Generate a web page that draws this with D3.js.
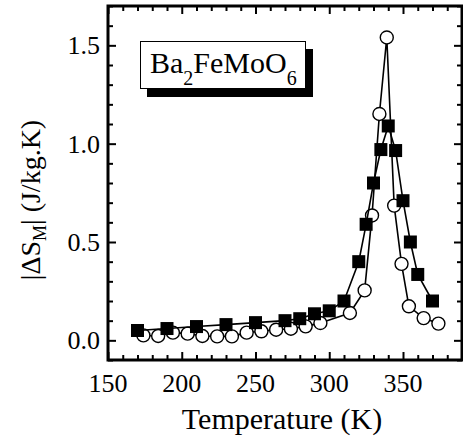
<!DOCTYPE html>
<html>
<head>
<meta charset="utf-8">
<script src="https://cdn.jsdelivr.net/npm/d3@7"></script>
<style>
  body { margin: 0; background: #fff; }
</style>
</head>
<body>
<svg id="chart" width="463" height="441"></svg>
<script>
// heating series (filled squares)
const squareT = [170, 190, 210, 230, 250, 270, 280, 290, 300, 310, 320, 325, 330, 335, 340, 345, 350, 355, 360, 370];
const squareS = [0.05, 0.06, 0.07, 0.08, 0.09, 0.10, 0.11, 0.135, 0.15, 0.20, 0.40, 0.59, 0.80, 0.97, 1.09, 0.965, 0.71, 0.50, 0.335, 0.20];

// second series (open circles)
const circleT = [174, 184, 194, 204, 214, 224, 234, 244, 254, 264, 274, 284, 294, 314, 324, 329, 334, 339, 344, 349, 354, 364, 374];
const circleS = [0.025, 0.022, 0.039, 0.034, 0.022, 0.020, 0.020, 0.039, 0.046, 0.054, 0.059, 0.071, 0.088, 0.139, 0.254, 0.635, 1.151, 1.54, 0.685, 0.389, 0.173, 0.113, 0.085];

const xMajor = [150, 200, 250, 300, 350];
const yMajor = [0.0, 0.5, 1.0, 1.5];

const plotLeft = 108, plotRight = 462, plotTop = 6, plotBottom = 360;
const fontFam = "\"Liberation Serif\", \"Times New Roman\", serif";

const svg = d3.select("#chart");

const x = d3.scaleLinear().domain([150, 390]).range([plotLeft, plotRight]);
const y = d3.scaleLinear().domain([-0.1, 1.7]).range([plotBottom, plotTop]);

const xMinor = d3.range(150, 391, 10).filter(v => !xMajor.includes(v));
const yMinor = d3.range(-1, 18).map(v => v / 10).filter(v => !yMajor.some(m => Math.abs(m - v) < 1e-9));

// inward ticks on all four sides
const tickGroup = (axis, tx, ty) => {
    const g = svg.append("g").attr("transform", `translate(${tx},${ty})`).call(axis);
    g.select(".domain").remove();
    g.selectAll("line").attr("stroke", "#000").attr("stroke-width", 2);
    g.selectAll("text").remove();
    return g;
};
tickGroup(d3.axisBottom(x).tickValues(xMajor).tickSize(-8), 0, plotBottom);
tickGroup(d3.axisBottom(x).tickValues(xMinor).tickSize(-5), 0, plotBottom);
tickGroup(d3.axisTop(x).tickValues(xMajor).tickSize(-8), 0, plotTop);
tickGroup(d3.axisTop(x).tickValues(xMinor).tickSize(-5), 0, plotTop);
tickGroup(d3.axisLeft(y).tickValues(yMajor).tickSize(-8), plotLeft, 0);
tickGroup(d3.axisLeft(y).tickValues(yMinor).tickSize(-5), plotLeft, 0);
tickGroup(d3.axisRight(y).tickValues(yMajor).tickSize(-8), plotRight, 0);
tickGroup(d3.axisRight(y).tickValues(yMinor).tickSize(-5), plotRight, 0);

// tick labels
svg.append("g").selectAll("text")
    .data(xMajor)
    .enter()
    .append("text")
    .attr("x", d => x(d))
    .attr("y", 392)
    .attr("text-anchor", "middle")
    .style("font-family", fontFam)
    .style("font-size", "26px")
    .text(d => d);

svg.append("g").selectAll("text")
    .data(yMajor)
    .enter()
    .append("text")
    .attr("x", 100)
    .attr("y", d => y(d))
    .attr("dy", "0.35em")
    .attr("text-anchor", "end")
    .style("font-family", fontFam)
    .style("font-size", "26px")
    .text(d => d.toFixed(1));

// frame
svg.append("rect")
    .attr("x", plotLeft).attr("y", plotTop)
    .attr("width", plotRight - plotLeft).attr("height", plotBottom - plotTop)
    .attr("fill", "none").attr("stroke", "#000").attr("stroke-width", 3);

// axis titles
svg.append("text")
    .attr("x", 282)
    .attr("y", 429)
    .attr("text-anchor", "middle")
    .style("font-family", fontFam)
    .style("font-size", "30px")
    .text("Temperature (K)");

const yTitle = svg.append("text")
    .attr("transform", "translate(40,200) rotate(-90)")
    .attr("text-anchor", "middle")
    .style("font-family", fontFam)
    .style("font-size", "28px");
yTitle.append("tspan").text("|ΔS");
yTitle.append("tspan").style("font-size", "18px").attr("dy", 6).text("M");
yTitle.append("tspan").attr("dy", -6).text("| (J/kg.K)");

// series
const line = d3.line().x(d => x(d[0])).y(d => y(d[1]));
const circles = circleT.map((t, i) => [t, circleS[i]]);
const squares = squareT.map((t, i) => [t, squareS[i]]);

svg.append("path")
    .datum(circles)
    .attr("d", line)
    .attr("fill", "none").attr("stroke", "#000").attr("stroke-width", 1.6);
svg.append("g").selectAll("circle")
    .data(circles)
    .enter()
    .append("circle")
    .attr("cx", d => x(d[0]))
    .attr("cy", d => y(d[1]))
    .attr("r", 6.5)
    .attr("fill", "#fff").attr("stroke", "#000").attr("stroke-width", 1.4);

svg.append("path")
    .datum(squares)
    .attr("d", line)
    .attr("fill", "none").attr("stroke", "#000").attr("stroke-width", 1.6);
svg.append("g").selectAll("rect")
    .data(squares)
    .enter()
    .append("rect")
    .attr("x", d => x(d[0]) - 6.5)
    .attr("y", d => y(d[1]) - 6.5)
    .attr("width", 13).attr("height", 13)
    .attr("fill", "#000");

// label box with drop shadow
svg.append("rect")
    .attr("x", 147).attr("y", 49).attr("width", 166).attr("height", 48)
    .attr("fill", "#000");
svg.append("rect")
    .attr("x", 140.5).attr("y", 41.5).attr("width", 165).attr("height", 47)
    .attr("fill", "#fff").attr("stroke", "#000").attr("stroke-width", 1);
const label = svg.append("text")
    .attr("x", 150)
    .attr("y", 73)
    .style("font-family", fontFam)
    .style("font-size", "30px");
label.append("tspan").text("Ba");
label.append("tspan").style("font-size", "20px").attr("dy", 12).text("2");
label.append("tspan").attr("dy", -12).text("FeMoO");
label.append("tspan").style("font-size", "20px").attr("dy", 12).text("6");
</script>
</body>
</html>
